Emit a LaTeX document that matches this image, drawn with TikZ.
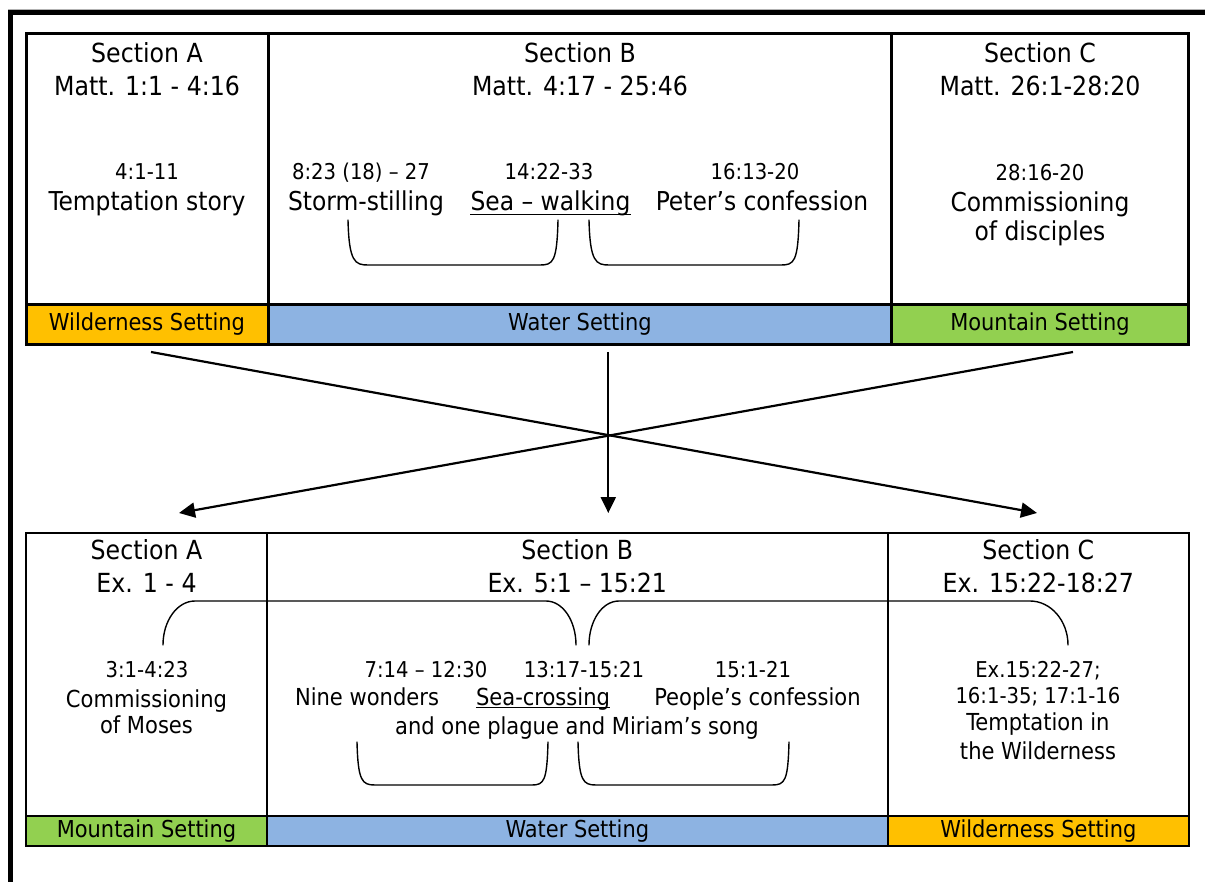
\documentclass[tikz,border=0pt]{standalone}
\usepackage{fontspec}
\setmainfont{DejaVu Sans Condensed}
\usetikzlibrary{arrows.meta}
\definecolor{wild}{HTML}{FFC000}
\definecolor{water}{HTML}{8DB3E2}
\definecolor{mount}{HTML}{92D050}
\begin{document}
\begin{tikzpicture}[x=1pt,y=-1pt,
  txt/.style={inner sep=0pt, anchor=base},
  hdr/.style={txt, font=\fontsize{26.3}{30}\selectfont},
  body/.style={txt, font=\fontsize{26}{30}\selectfont},
  bodyb/.style={txt, font=\fontsize{23.4}{27}\selectfont},
  ref/.style={txt, font=\fontsize{21.8}{25}\selectfont},
  band/.style={txt, font=\fontsize{23.3}{27}\selectfont},
  heavy/.style={line width=3pt},
  light/.style={line width=2pt},
  brace/.style={line width=1.4pt, line cap=round},
  ul/.style={line width=1.3pt},
  link/.style={line width=2.2pt, -{Triangle[length=16pt,width=15pt]}},
]
\useasboundingbox (0,0) rectangle (1205,882);
\fill[white] (0,0) rectangle (1205,882);

% page frame
\draw[gray!60, line width=1pt] (8,9.5) -- (1205,9.5);
\draw[line width=5pt] (10.5,882) -- (10.5,12.5) -- (1205,12.5);

% ---------- Matthew table ----------
\fill[wild]  (26,304.7) rectangle (268,345);
\fill[water] (268,304.7) rectangle (891.7,345);
\fill[mount] (891.7,304.7) rectangle (1188.7,345);
\draw[heavy] (26,34) rectangle (1188.7,345);
\draw[heavy] (268,34) -- (268,345) (891.7,34) -- (891.7,345)
             (26,304.7) -- (1188.7,304.7);

\node[hdr] (mAh1) at (147,63) {Section A};
\node[hdr] (mAh2) at (147,96) {Matt. 1:1 - 4:16};
\node[ref] (mAr) at (147,180) {4:1-11};
\node[body] (mAt) at (147,211) {Temptation story};
\node[band] (mAs) at (147,331) {Wilderness Setting};

\node[hdr] (mBh1) at (580,63) {Section B};
\node[hdr] (mBh2) at (580,96) {Matt. 4:17 - 25:46};
\node[ref] (mBr1) at (361,180) {8:23 (18) – 27};
\node[ref] (mBr2) at (549,180) {14:22-33};
\node[ref] (mBr3) at (755,180) {16:13-20};
\node[body] (mBt1) at (366,211) {Storm-stilling};
\node[body] (mBt2) at (550.5,211) {Sea – walking};
\node[body] (mBt3) at (762,211) {Peter’s confession};
\draw[ul] ([yshift=-3.5pt]mBt2.base west) -- ([yshift=-3.5pt]mBt2.base east);
\node[band] (mBs) at (580,331) {Water Setting};

\node[hdr] (mCh1) at (1040,63) {Section C};
\node[hdr] (mCh2) at (1040,96) {Matt. 26:1-28:20};
\node[ref] (mCr) at (1040,180.5) {28:16-20};
\node[body] (mCt1) at (1040,211.5) {Commissioning};
\node[body] (mCt2) at (1040,241) {of disciples};
\node[band] (mCs) at (1040,331) {Mountain Setting};

% brackets under the water episodes
\draw[brace] (348,220) .. controls (349,262) and (355,265) .. (368,265) -- (540,265)
             .. controls (553,265) and (557,262) .. (558,220);
\draw[brace] (589,220) .. controls (590,262) and (596,265) .. (609,265) -- (781,265)
             .. controls (794,265) and (798,262) .. (799,220);

% ---------- connectors ----------
\coordinate (fromA) at (151,352);
\coordinate (fromB) at (608.3,352);
\coordinate (fromC) at (1073,352);
\coordinate (toA) at (179,513);
\coordinate (toB) at (608.3,513);
\coordinate (toC) at (1037,513);
\draw[link] (fromA) -- (toC);
\draw[link] (fromC) -- (toA);
\draw[link] (fromB) -- (toB);

% ---------- Exodus table ----------
\fill[mount] (26,816) rectangle (267,845.5);
\fill[water] (267,816) rectangle (887.7,845.5);
\fill[wild]  (887.7,816) rectangle (1189,845.5);
\draw[light] (26,532.5) rectangle (1189,845.5);
\draw[light] (267,532.5) -- (267,845.5) (887.7,532.5) -- (887.7,845.5)
             (26,816) -- (1189,816);

\node[hdr] (eAh1) at (146.5,559) {Section A};
\node[hdr] (eAh2) at (146.5,592.5) {Ex. 1 - 4};
\node[ref] (eAr) at (147,677) {3:1-4:23};
\node[bodyb] (eAt1) at (146.5,707) {Commissioning};
\node[bodyb] (eAt2) at (146.5,733.5) {of Moses};
\node[band] (eAs) at (146.5,837) {Mountain Setting};

\node[hdr] (eBh1) at (577.3,559) {Section B};
\node[hdr] (eBh2) at (577.3,592.5) {Ex. 5:1 – 15:21};
\node[ref] (eBr1) at (426,677) {7:14 – 12:30};
\node[ref] (eBr2) at (584,677) {13:17-15:21};
\node[ref] (eBr3) at (753,677) {15:1-21};
\node[bodyb] (eBt1) at (367,705) {Nine wonders};
\node[bodyb] (eBt2) at (543,705) {Sea-crossing};
\node[bodyb] (eBt3) at (757.5,705) {People’s confession};
\draw[ul] ([yshift=-2.5pt]eBt2.base west) -- ([yshift=-2.5pt]eBt2.base east);
\node[bodyb] (eBt4) at (577,734) {and one plague and Miriam’s song};
\node[band] (eBs) at (577.3,837) {Water Setting};

\node[hdr] (eCh1) at (1038.3,559) {Section C};
\node[hdr] (eCh2) at (1038.3,592) {Ex. 15:22-18:27};
\node[ref] (eCr1) at (1038,677) {Ex.15:22-27;};
\node[ref] (eCr2) at (1038,703) {16:1-35; 17:1-16};
\node[bodyb] (eCt1) at (1038,730) {Temptation in};
\node[bodyb] (eCt2) at (1038,759) {the Wilderness};
\node[band] (eCs) at (1038.3,837) {Wilderness Setting};

% wide brackets linking the sections
\draw[brace] (163,645) .. controls (163,621) and (177,601) .. (195,601) -- (546,601)
             .. controls (563,601) and (576,621) .. (576,645);
\draw[brace] (589,645) .. controls (589,621) and (602,601) .. (619,601) -- (1030,601)
             .. controls (1051,601) and (1068,621) .. (1068,645);

% brackets under the sea episodes
\draw[brace] (357,742) .. controls (358,781) and (362,785) .. (375,785) -- (532,785)
             .. controls (544,785) and (547,781) .. (548,742);
\draw[brace] (578,742) .. controls (579,781) and (583,785) .. (596,785) -- (772,785)
             .. controls (785,785) and (788,781) .. (789,742);
\end{tikzpicture}
\end{document}
